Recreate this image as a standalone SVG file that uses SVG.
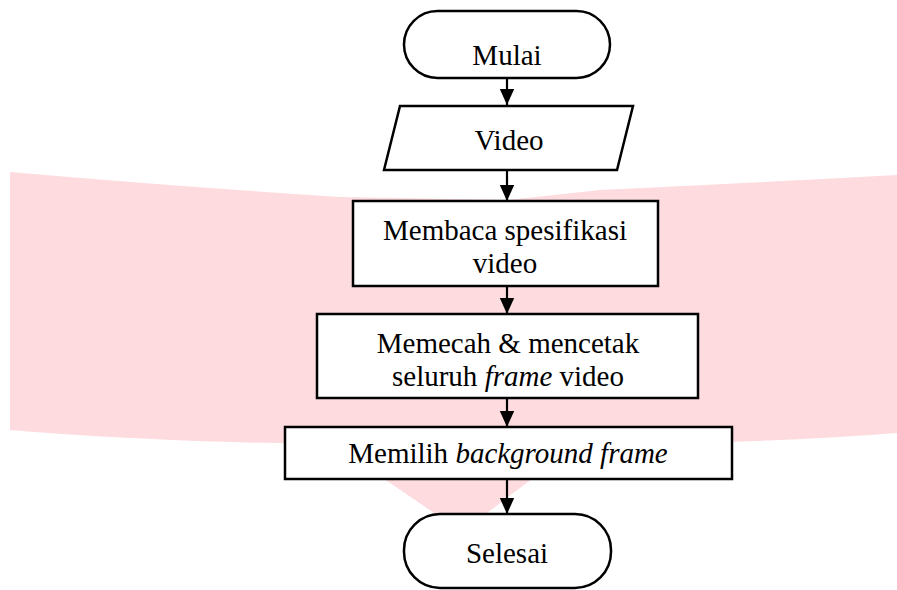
<svg xmlns="http://www.w3.org/2000/svg" width="897" height="590" viewBox="0 0 897 590">
<style>
.s{fill:#fff;stroke:#000;stroke-width:2.5}
.t{font-family:"Liberation Serif","Times New Roman",serif;font-size:29px;fill:#000;text-anchor:middle}
.i{font-style:italic}
.c{stroke:#000;stroke-width:2.2;fill:none}
</style>
<defs>
<marker id="ah" viewBox="0 0 10 10" refX="10" refY="5" markerWidth="16" markerHeight="16" markerUnits="userSpaceOnUse" orient="auto">
<path d="M0,0.5 L10,5 L0,9.5 Z" fill="#000"/>
</marker>
</defs>
<rect width="897" height="590" fill="#fff"/>
<path id="watermark" d="M10,172 L10,430 Q150,442 333,444 L462,532 L578,444 Q760,444 897,433 L897,175 Q750,183 600,190 L507,200 L340,197 Q170,186 10,172 Z" fill="#FDDBDE"/>
<g id="connectors">
<line class="c" x1="507" y1="78" x2="507" y2="105" marker-end="url(#ah)"/>
<line class="c" x1="507" y1="170" x2="507" y2="201" marker-end="url(#ah)"/>
<line class="c" x1="507" y1="286" x2="507" y2="314" marker-end="url(#ah)"/>
<line class="c" x1="507" y1="398" x2="507" y2="427" marker-end="url(#ah)"/>
<line class="c" x1="507" y1="479" x2="507" y2="514" marker-end="url(#ah)"/>
</g>
<g id="mulai">
<rect class="s" x="404" y="11" width="206" height="67" rx="33.5"/>
<text class="t" x="507" y="65">Mulai</text>
</g>
<g id="video">
<polygon class="s" points="400,106 633,106 617,170 384,170"/>
<text class="t" x="509" y="150">Video</text>
</g>
<g id="membaca">
<rect class="s" x="353" y="201" width="305" height="85"/>
<text class="t" x="505" y="240">Membaca spesifikasi</text>
<text class="t" x="505" y="273">video</text>
</g>
<g id="memecah">
<rect class="s" x="317" y="314" width="381" height="84"/>
<text class="t" x="508" y="353">Memecah &amp; mencetak</text>
<text class="t" x="508" y="386">seluruh <tspan class="i">frame</tspan> video</text>
</g>
<g id="memilih">
<rect class="s" x="285" y="427" width="447" height="52"/>
<text class="t" x="508" y="463">Memilih <tspan class="i">background frame</tspan></text>
</g>
<g id="selesai">
<rect class="s" x="404" y="514" width="207" height="74" rx="36"/>
<text class="t" x="507" y="563">Selesai</text>
</g>
</svg>
